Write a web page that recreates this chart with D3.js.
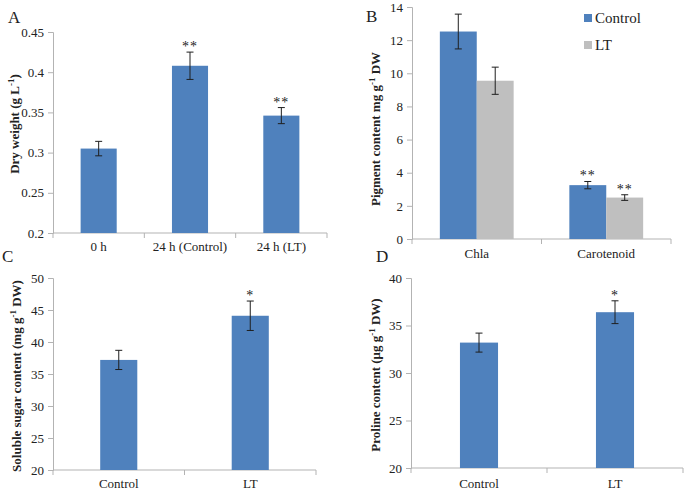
<!DOCTYPE html>
<html><head><meta charset="utf-8">
<script src="https://cdn.jsdelivr.net/npm/d3@7"></script>
<style>
html,body{margin:0;padding:0;background:#fff;}
text{font-family:"Liberation Serif","Times New Roman",serif;fill:#222;}
</style></head>
<body><svg id="c" width="686" height="491"></svg>
<script>
// ---- data ----
const catsA = ["0 h", "24 h (Control)", "24 h (LT)"];
const valsA = [0.305, 0.408, 0.346];
const errA  = [0.009, 0.017, 0.010];
const sigA  = ["", "**", "**"];
const ticksA = [0.2, 0.25, 0.3, 0.35, 0.4, 0.45];

const catsB = ["Chla", "Carotenoid"];
const seriesB = ["Control", "LT"];
const ctrlB = [12.52, 3.25];
const ctrlErrB = [1.05, 0.22];
const ltB = [9.55, 2.5];
const ltErrB = [0.82, 0.17];
const sigCtrlB = ["", "**"];
const sigLtB = ["", "**"];
const ticksB = [0, 2, 4, 6, 8, 10, 12, 14];

const catsC = ["Control", "LT"];
const valsC = [37.2, 44.1];
const errC  = [1.5, 2.3];
const sigC  = ["", "*"];
const ticksC = [20, 25, 30, 35, 40, 45, 50];

const catsD = ["Control", "LT"];
const valsD = [33.2, 36.4];
const errD  = [1.0, 1.2];
const sigD  = ["", "*"];
const ticksD = [20, 25, 30, 35, 40];

const BLUE = "#4f81bd", GRAY = "#bfbfbf", AXIS = "#b3b3b3";
const svg = d3.select("#c");

function panel(o) {
  const g = svg.append("g");
  const x = d3.scaleBand().domain(o.cats).range([o.x0, o.x1]).padding(0);
  const y = d3.scaleLinear().domain(o.domain).range([o.y0, o.y1]);
  // y axis
  const ya = d3.axisLeft(y).tickValues(o.ticks).tickSize(5).tickPadding(4)
    .tickFormat(o.fmt);
  const yg = g.append("g").attr("transform", `translate(${o.x0},0)`).call(ya);
  yg.attr("font-family", null);
  yg.select(".domain").attr("stroke", AXIS);
  yg.selectAll(".tick line").attr("stroke", AXIS);
  yg.selectAll(".tick text").attr("font-size", 13).attr("fill", "#333");
  // x axis line + dividers
  g.append("line").attr("x1", o.x0).attr("x2", o.x1).attr("y1", o.y0).attr("y2", o.y0).attr("stroke", AXIS);
  const edges = o.cats.map(c => x(c)).concat([o.x1]);
  g.selectAll(".dv").data(edges).enter().append("line")
    .attr("x1", d => d).attr("x2", d => d).attr("y1", o.y0).attr("y2", o.y0 + 5).attr("stroke", AXIS);
  g.selectAll(".cl").data(o.cats).enter().append("text")
    .attr("x", d => x(d) + x.bandwidth() / 2).attr("y", o.catY)
    .attr("text-anchor", "middle").attr("font-size", 13).text(d => d);
  // bars
  const series = o.series;
  const n = series.length;
  const bw = x.bandwidth() * o.barFrac;
  series.forEach((s, si) => {
    const bx = c => x(c) + x.bandwidth() / 2 - (n * bw) / 2 + si * bw;
    g.selectAll(null).data(o.cats).enter().append("rect")
      .attr("x", d => bx(d)).attr("width", bw)
      .attr("y", (d, i) => y(s.vals[i])).attr("height", (d, i) => o.y0 - y(s.vals[i]))
      .attr("fill", s.color);
    o.cats.forEach((c, i) => {
      const cx = bx(c) + bw / 2;
      const top = y(s.vals[i] + s.err[i]), bot = y(s.vals[i] - s.err[i]);
      g.append("line").attr("x1", cx).attr("x2", cx).attr("y1", top).attr("y2", bot).attr("stroke", "#1f1f1f").attr("stroke-width", 1);
      [top, bot].forEach(yy => g.append("line").attr("x1", cx - 3.5).attr("x2", cx + 3.5).attr("y1", yy).attr("y2", yy).attr("stroke", "#1f1f1f").attr("stroke-width", 1));
      if (s.sig[i]) g.append("text").attr("x", cx).attr("y", top - 1).attr("text-anchor", "middle")
        .attr("font-size", 14).attr("letter-spacing", 1).attr("fill", "#444").text(s.sig[i]);
    });
  });
  // y title
  const t = g.append("text").attr("transform", `translate(${o.titleX},${o.titleY}) rotate(-90)`)
    .attr("text-anchor", "middle").attr("font-size", 13).attr("font-weight", "bold");
  o.title.forEach(p => {
    const ts = t.append("tspan").text(p.t);
    if (p.sup) ts.attr("baseline-shift", "super").attr("font-size", 9);
  });
  // panel letter
  g.append("text").attr("x", o.lx).attr("y", o.ly).attr("font-size", 17).text(o.letter);
}

const f2 = d => d3.format("")(+d.toFixed(2));

panel({cats: catsA, series: [{vals: valsA, err: errA, sig: sigA, color: BLUE}],
  domain: [0.2, 0.45], ticks: ticksA, fmt: f2, x0: 53, x1: 327, y0: 233, y1: 32, barFrac: 0.395,
  catY: 251, title: [{t: "Dry weight (g L"}, {t: "-1", sup: true}, {t: ")"}], titleX: 19, titleY: 124,
  letter: "A", lx: 8, ly: 23});

panel({cats: catsB, series: [
    {vals: ctrlB, err: ctrlErrB, sig: sigCtrlB, color: BLUE},
    {vals: ltB, err: ltErrB, sig: sigLtB, color: GRAY}],
  domain: [0, 14], ticks: ticksB, fmt: d => d, x0: 412, x1: 671, y0: 239, y1: 7, barFrac: 0.285,
  catY: 258, title: [{t: "Pigment content mg g"}, {t: "-1", sup: true}, {t: " DW"}], titleX: 380, titleY: 129,
  letter: "B", lx: 366, ly: 22});

panel({cats: catsC, series: [{vals: valsC, err: errC, sig: sigC, color: BLUE}],
  domain: [20, 50], ticks: ticksC, fmt: d => d, x0: 53, x1: 316, y0: 470, y1: 278, barFrac: 0.282,
  catY: 488, title: [{t: "Soluble sugar content (mg g"}, {t: "-1", sup: true}, {t: " DW)"}], titleX: 21, titleY: 376,
  letter: "C", lx: 2, ly: 262});

panel({cats: catsD, series: [{vals: valsD, err: errD, sig: sigD, color: BLUE}],
  domain: [20, 40], ticks: ticksD, fmt: d => d, x0: 411, x1: 683, y0: 468, y1: 278, barFrac: 0.28,
  catY: 488, title: [{t: "Proline content (μg g"}, {t: "-1", sup: true}, {t: " DW)"}], titleX: 380, titleY: 375,
  letter: "D", lx: 376, ly: 262});

// legend for B
const leg = svg.append("g");
seriesB.forEach((s, i) => {
  leg.append("rect").attr("x", 584).attr("y", 14 + i * 27).attr("width", 8).attr("height", 8).attr("fill", i ? GRAY : BLUE);
  leg.append("text").attr("x", 595).attr("y", 23 + i * 27).attr("font-size", 15).text(s);
});
</script></body></html>
